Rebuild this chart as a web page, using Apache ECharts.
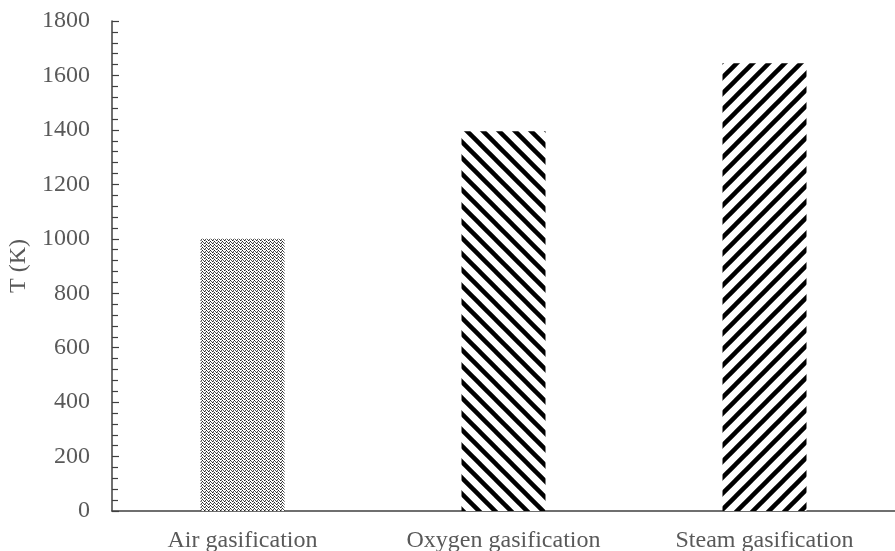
<!DOCTYPE html>
<html>
<head>
<meta charset="utf-8">
<script src="https://cdn.jsdelivr.net/npm/echarts@6/dist/echarts.min.js"></script>
<style>
html,body{margin:0;padding:0;background:#fff;}
#chart{width:895px;height:551px;}
</style>
</head>
<body>
<div id="chart"></div>
<script>
const categories = ['Air gasification', 'Oxygen gasification', 'Steam gasification'];
const temperatures = [1000, 1395, 1645];
const yTicks = [0, 200, 400, 600, 800, 1000, 1200, 1400, 1600, 1800];

function stripePattern(dir) {
  const s = 16;
  const c = document.createElement('canvas');
  c.width = s; c.height = s;
  const ctx = c.getContext('2d');
  ctx.fillStyle = '#fff';
  ctx.fillRect(0, 0, s, s);
  ctx.strokeStyle = '#000';
  ctx.lineWidth = 4.5;
  ctx.lineCap = 'butt';
  for (let k = -1; k <= 1; k++) {
    ctx.beginPath();
    if (dir === 'down') {
      ctx.moveTo(-2, -2 + k * s);
      ctx.lineTo(s + 2, s + 2 + k * s);
    } else {
      ctx.moveTo(-2, s + 2 + k * s);
      ctx.lineTo(s + 2, -2 + k * s);
    }
    ctx.stroke();
  }
  return c;
}

function dotPattern() {
  const w = 4, h = 3;
  const c = document.createElement('canvas');
  c.width = w; c.height = h;
  const ctx = c.getContext('2d');
  ctx.fillStyle = '#fff';
  ctx.fillRect(0, 0, w, h);
  ctx.fillStyle = '#222';
  ctx.fillRect(0, 0, 1, 1);
  ctx.fillRect(2, 1, 1, 1);
  ctx.fillStyle = '#555';
  ctx.fillRect(1, 2, 1, 1);
  ctx.fillRect(3, 2, 1, 1);
  ctx.fillStyle = '#999';
  ctx.fillRect(1, 0, 1, 1);
  return c;
}

const fills = [
  { image: dotPattern(), repeat: 'repeat' },
  { image: stripePattern('down'), repeat: 'repeat' },
  { image: stripePattern('up'), repeat: 'repeat' }
];

const chart = echarts.init(document.getElementById('chart'), null, { renderer: 'canvas' });
const font = 'Liberation Serif';
chart.setOption({
  animation: false,
  backgroundColor: '#fff',
  grid: { left: 112, right: 0, top: 21, bottom: 40, containLabel: false, outerBoundsMode: 'none' },
  xAxis: {
    type: 'category',
    data: categories,
    axisLine: { show: true, lineStyle: { color: '#404040', width: 1.5 } },
    axisTick: { show: false },
    axisLabel: { color: '#595959', fontFamily: font, fontSize: 24, margin: 18 },
    splitLine: { show: false }
  },
  yAxis: {
    type: 'value',
    min: yTicks[0],
    max: yTicks[yTicks.length - 1],
    interval: 200,
    name: 'T (K)',
    nameLocation: 'middle',
    nameGap: 73,
    nameTextStyle: { color: '#595959', fontFamily: font, fontSize: 24 },
    axisLine: { show: true, lineStyle: { color: '#404040', width: 1.5 } },
    axisTick: { show: true, inside: true, length: 7, lineStyle: { color: '#404040', width: 1.2 } },
    minorTick: { show: true, splitNumber: 5, length: 6, lineStyle: { color: '#404040', width: 1.2 } },
    axisLabel: { color: '#595959', fontFamily: font, fontSize: 24, margin: 22, formatter: v => String(v) },
    splitLine: { show: false }
  },
  series: [{
    type: 'bar',
    barWidth: 84,
    data: temperatures.map((v, i) => ({ value: v, itemStyle: { color: fills[i] } }))
  }]
});
</script>
</body>
</html>
